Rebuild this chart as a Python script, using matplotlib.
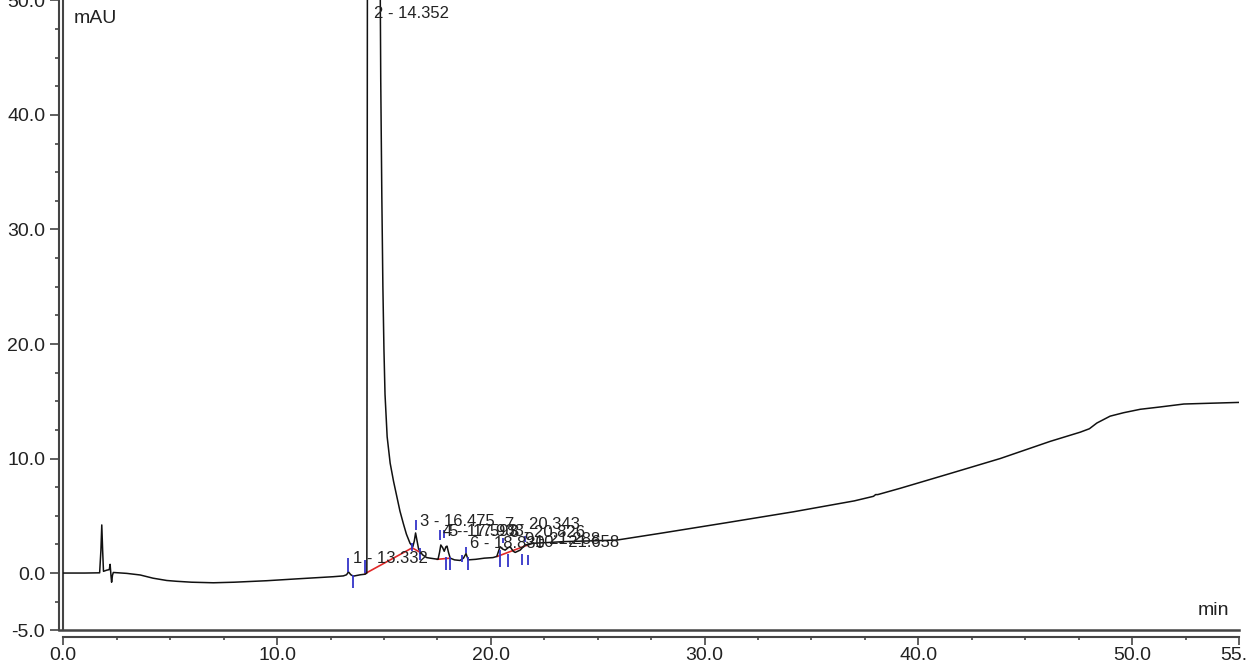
"""
Chromatogram trace (mAU vs min) with peak labels, delimiters and baselines.
"""
import numpy as np
import matplotlib
matplotlib.use("Agg")
import matplotlib.pyplot as plt
from matplotlib.ticker import FixedLocator, MultipleLocator, FormatStrFormatter

plt.rcParams["font.family"] = ["Liberation Sans", "DejaVu Sans"]
plt.rcParams["axes.unicode_minus"] = False

# --- trace (time in min, signal in mAU) ---
trace_t = [0.0, 1.0, 1.70, 1.76, 1.80, 1.84, 1.88, 2.03, 2.15, 2.19, 2.23, 2.26,
           2.30, 2.34, 2.97, 3.6, 4.2, 4.84, 5.3, 6.0, 7.02, 8.0, 9.52, 11.0,
           12.63, 13.1, 13.25, 13.34, 13.45, 13.57, 13.9, 14.12, 14.20, 14.23,
           14.40, 14.70, 14.80, 14.85, 14.90, 14.95, 15.00, 15.05, 15.15, 15.29,
           15.45, 15.6, 15.75, 15.91, 16.05, 16.22, 16.35, 16.42, 16.48, 16.55,
           16.62, 16.8, 17.0, 17.16, 17.53, 17.60, 17.66, 17.75, 17.82, 17.90,
           17.95, 18.02, 18.1, 18.3, 18.56, 18.72, 18.84, 18.94, 19.3, 19.7,
           20.1, 20.28, 20.43, 20.55, 20.67, 20.8, 20.9, 21.05, 21.14, 21.37,
           21.6, 21.8, 21.98, 22.5, 23.5, 24.5, 25.9, 27.93, 31.04, 34.16,
           37.0, 37.9, 38.0, 38.1, 39.15, 41.5, 43.83, 46.17, 47.57, 48.0,
           48.35, 48.97, 49.6, 50.38, 51.3, 52.42, 53.5, 55.0]
trace_y = [0.0, 0.0, 0.02, 2.0, 4.2, 2.0, 0.15, 0.25, 0.3, 0.76, -0.2, -0.8,
           -0.2, 0.05, -0.03, -0.17, -0.45, -0.65, -0.72, -0.8, -0.85, -0.8, -0.67, -0.5,
           -0.32, -0.25, -0.15, 0.1, -0.15, -0.27, -0.15, -0.1, 0.0, 60.0,
           250.0, 250.0, 60.0, 43.0, 33.0, 25.0, 19.5, 15.6, 11.9, 9.6,
           8.0, 6.7, 5.4, 4.3, 3.4, 2.6, 2.3, 2.8, 3.5, 2.8,
           2.1, 1.6, 1.35, 1.3, 1.2, 1.8, 2.45, 2.2, 1.9, 2.3,
           2.35, 1.8, 1.3, 1.15, 1.1, 1.3, 1.7, 1.15, 1.2, 1.3,
           1.35, 1.45, 2.3, 2.1, 2.0, 2.2, 2.3, 1.9, 1.8, 2.0,
           2.45, 2.5, 2.6, 2.65, 2.75, 2.8, 2.88, 3.47, 4.4, 5.35,
           6.3, 6.7, 6.85, 6.85, 7.4, 8.7, 10.0, 11.5, 12.3, 12.6,
           13.1, 13.7, 14.0, 14.3, 14.5, 14.76, 14.82, 14.9]

# --- peak labels: text, anchor time, anchor height ---
peak_labels = ["1 - 13.332", "2 - 14.352", "3 - 16.475", "4 - 17.593", "5 - 17.933",
               "6 - 18.830", "7 - 20.343", "8 - 20.826", "9 - 21.288", "10 - 21.658"]
label_t = [13.56, 14.54, 16.69, 17.77, 18.05, 19.03, 20.67, 20.90, 21.60, 22.05]
label_y = [1.3, 48.9, 4.5, 3.6, 3.6, 2.6, 4.2, 3.5, 2.9, 2.7]

# --- peak delimiters (blue) ---
delim_t = [13.30, 13.55, 14.12, 16.30, 16.50, 16.70, 17.60, 17.80, 17.90, 18.10,
           18.65, 18.84, 18.95, 20.45, 20.55, 20.80, 21.45, 21.60, 21.75]
delim_lo = [0.05, -1.3, 0.0, 1.9, 3.75, 1.1, 2.9, 3.1, 0.25, 0.25,
            0.95, 1.75, 0.25, 0.5, 2.6, 0.5, 0.7, 2.7, 0.7]
delim_hi = [1.3, -0.2, 1.1, 2.6, 4.6, 2.2, 3.75, 3.75, 1.4, 1.4,
            1.6, 2.3, 1.4, 2.0, 3.1, 1.7, 1.7, 3.2, 1.6]

# --- baselines (red) ---
base_t0 = [14.12, 16.32, 17.50, 20.30]
base_y0 = [-0.05, 2.2, 1.2, 1.45]
base_t1 = [16.32, 16.70, 18.10, 21.80]
base_y1 = [2.2, 1.8, 1.3, 2.5]

AX_COLOR = "#444444"
TXT_COLOR = "#222222"

fig = plt.figure(figsize=(12.46, 6.66), dpi=100)
ax = fig.add_axes([0.0508, 0.0536, 0.9436, 0.9464])

ax.plot(trace_t, trace_y, color="#111111", lw=1.1, zorder=3)
ax.plot([base_t0, base_t1], [base_y0, base_y1], color="#e02828", lw=1.2, zorder=2)
ax.vlines(delim_t, delim_lo, delim_hi, color="#3434c8", lw=1.3, zorder=4)

for text, t, y in zip(peak_labels, label_t, label_y):
    ax.text(t, y, text, ha="left", va="center", fontsize=12,
            color=TXT_COLOR, zorder=5)

ax.set_xlim(0, 55)
ax.set_ylim(-5, 50.04)

# axes: ticked spines pushed outward, plain frame lines at the data edge
for side in ["top", "right"]:
    ax.spines[side].set_visible(False)
ax.spines["left"].set_position(("outward", 2.9))
ax.spines["bottom"].set_position(("outward", 5.0))
for side in ["left", "bottom"]:
    ax.spines[side].set_color(AX_COLOR)
    ax.spines[side].set_linewidth(1.5)
ax.axvline(0, color=AX_COLOR, lw=1.5, clip_on=False, zorder=1)
ax.axhline(-5, xmin=-4 / 1176, xmax=1, color=AX_COLOR, lw=1.8, clip_on=False, zorder=1)

ax.xaxis.set_major_locator(FixedLocator([0, 10, 20, 30, 40, 50, 55]))
ax.xaxis.set_minor_locator(MultipleLocator(2.5))
ax.yaxis.set_major_locator(FixedLocator([-5, 0, 10, 20, 30, 40, 50]))
ax.yaxis.set_minor_locator(MultipleLocator(2.5))
ax.xaxis.set_major_formatter(FormatStrFormatter("%.1f"))
ax.yaxis.set_major_formatter(FormatStrFormatter("%.1f"))

ax.tick_params(axis="y", which="major", length=6.5, width=1.2, pad=3.6,
               labelsize=14, colors=AX_COLOR, labelcolor=TXT_COLOR)
ax.tick_params(axis="y", which="minor", length=3.2, width=1.2, colors=AX_COLOR)
ax.tick_params(axis="x", which="major", length=5.8, width=1.2, pad=1.5,
               labelsize=14, colors=AX_COLOR, labelcolor=TXT_COLOR)
ax.tick_params(axis="x", which="minor", length=2.2, width=1.2, colors=AX_COLOR)

ax.text(0.0090, 0.9714, "mAU", transform=ax.transAxes, ha="left", va="center",
        fontsize=14, color=TXT_COLOR)
ax.text(0.978, 0.032, "min", transform=ax.transAxes, ha="center", va="center",
        fontsize=14, color=TXT_COLOR)

fig.savefig("out.png", dpi=100)
